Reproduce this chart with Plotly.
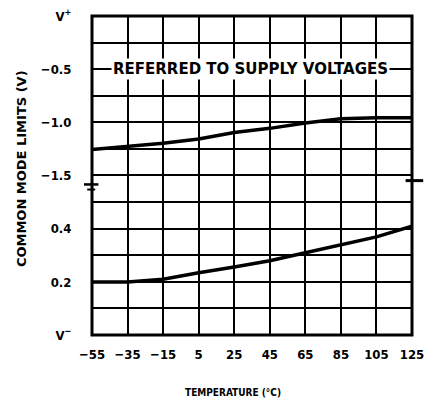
import plotly.graph_objects as go

temps = [-55, -35, -15, 5, 25, 45, 65, 85, 105, 125]
upper_limit = [-1.26, -1.23, -1.20, -1.16, -1.10, -1.06, -1.01, -0.97, -0.96, -0.96]
lower_limit = [0.20, 0.20, 0.21, 0.235, 0.256, 0.28, 0.31, 0.34, 0.37, 0.41]

x_tickvals = [-55, -35, -15, 5, 25, 45, 65, 85, 105, 125]
x_ticktext = ["\u221255", "\u221235", "\u221215", "5", "25", "45", "65", "85", "105", "125"]
top_tickvals = [0, -0.5, -1.0, -1.5]
top_ticktext = ["V<sup>+</sup>", "\u22120.5", "\u22121.0", "\u22121.5"]
top_minor = [-0.25, -0.75, -1.25]
bot_tickvals = [0, 0.2, 0.4]
bot_ticktext = ["V<sup>\u2212</sup>", "0.2", "0.4"]
bot_minor = [0.1, 0.3, 0.5]

FONT = "DejaVu Sans Condensed, DejaVu Sans"
FONT_W = "DejaVu Sans"
split = 0.464

fig = go.Figure()
fig.add_trace(go.Scatter(x=temps, y=upper_limit, mode="lines", xaxis="x2", yaxis="y",
                         line=dict(color="black", width=3.5), showlegend=False))
fig.add_trace(go.Scatter(x=temps, y=lower_limit, mode="lines", xaxis="x", yaxis="y2",
                         line=dict(color="black", width=3.5), showlegend=False))

xcommon = dict(range=[-55, 125], tickvals=x_tickvals, showgrid=True, gridcolor="black",
               gridwidth=2, zeroline=False, showline=False, automargin=False,
               ticklabeloverflow="allow")
ycommon = dict(showgrid=True, gridcolor="black", gridwidth=2, zeroline=False, automargin=False,
               ticks="outside", ticklen=17, tickcolor="rgba(0,0,0,0)", ticklabeloverflow="allow",
               tickfont=dict(size=13, family=FONT, weight="bold"))
fig.update_layout(
    width=425, height=402,
    margin=dict(l=92, r=13, t=16, b=67),
    paper_bgcolor="white", plot_bgcolor="white",
    font=dict(family=FONT, color="black", size=12),
    xaxis=dict(**xcommon, ticktext=x_ticktext, anchor="y2", ticks="outside", ticklen=7,
               tickcolor="rgba(0,0,0,0)", tickfont=dict(size=13, family=FONT, weight="bold")),
    xaxis2=dict(**xcommon, anchor="y", matches="x", showticklabels=False),
    yaxis=dict(**ycommon, domain=[split, 1], range=[-1.613, 0], tickvals=top_tickvals,
               ticktext=top_ticktext,
               minor=dict(tickvals=top_minor, showgrid=True, gridcolor="black", gridwidth=2)),
    yaxis2=dict(**ycommon, domain=[0, split], range=[0, 0.558], tickvals=bot_tickvals,
                ticktext=bot_ticktext,
                minor=dict(tickvals=bot_minor, showgrid=True, gridcolor="black", gridwidth=2)),
)

# frame
fig.add_shape(type="rect", xref="paper", yref="paper", x0=0, x1=1, y0=0, y1=1,
              line=dict(color="black", width=3))
# axis break marks
fig.add_shape(type="line", xref="paper", yref="paper", x0=-0.025, x1=0.02, y0=split + 0.008, y1=split + 0.008,
              line=dict(color="black", width=2.5))
fig.add_shape(type="line", xref="paper", yref="paper", x0=-0.015, x1=0.01, y0=split - 0.008, y1=split - 0.008,
              line=dict(color="black", width=2))
fig.add_shape(type="line", xref="paper", yref="paper", x0=0.98, x1=1.035, y0=split + 0.02, y1=split + 0.02,
              line=dict(color="black", width=3))

fig.add_annotation(text="REFERRED TO SUPPLY VOLTAGES", xref="paper", yref="y", x=0.494, y=-0.5,
                   showarrow=False, font=dict(size=15, family=FONT_W, weight="bold"), bgcolor="white")
fig.add_annotation(text="COMMON MODE LIMITS (V)", xref="paper", yref="paper", x=-0.222, y=0.523,
                   xanchor="center", yanchor="middle",
                   textangle=-90, showarrow=False, font=dict(size=13, family=FONT_W, weight="bold"))
fig.add_annotation(text="TEMPERATURE (\u00b0C)", xref="paper", yref="paper", x=0.44, y=-0.179,
                   xanchor="center", yanchor="middle", showarrow=False,
                   font=dict(size=10, family=FONT, weight="bold"))

fig.write_html("out.html", config={"displayModeBar": False},
               post_script="document.body.style.margin='0';document.body.style.overflow='hidden';")
